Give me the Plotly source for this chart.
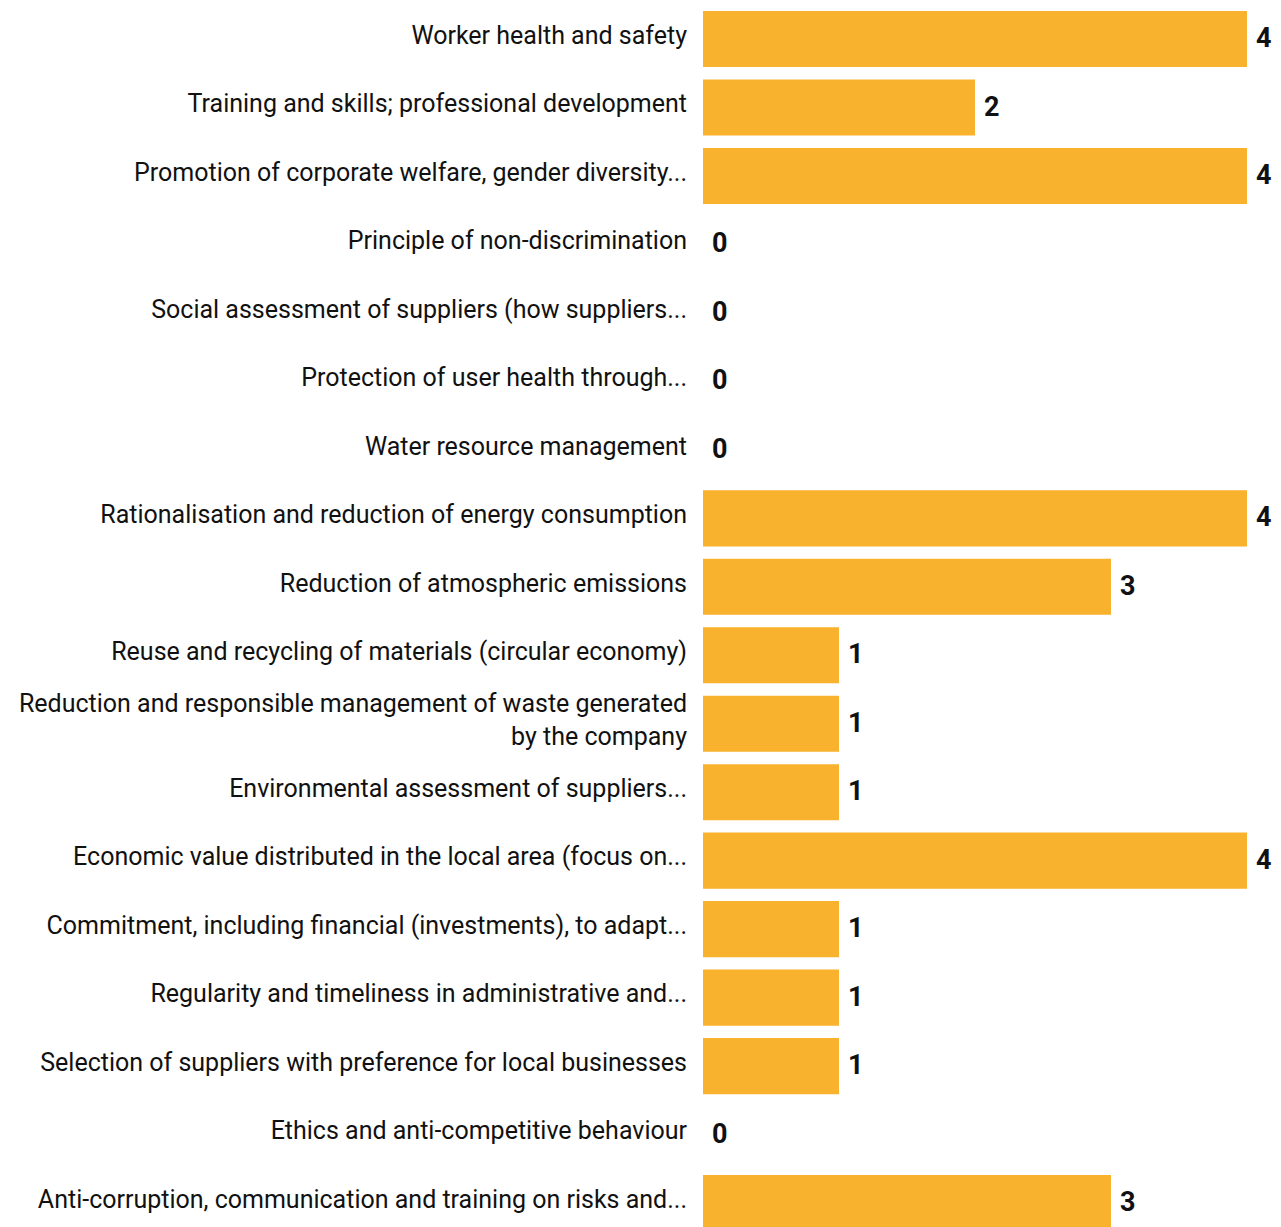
import plotly.graph_objects as go

# Topics and the number of times each was selected
topics = [
    "Worker health and safety",
    "Training and skills; professional development",
    "Promotion of corporate welfare, gender diversity...",
    "Principle of non-discrimination",
    "Social assessment of suppliers (how suppliers...",
    "Protection of user health through...",
    "Water resource management",
    "Rationalisation and reduction of energy consumption",
    "Reduction of atmospheric emissions",
    "Reuse and recycling of materials (circular economy)",
    "Reduction and responsible management of waste generated<br>by the company",
    "Environmental assessment of suppliers...",
    "Economic value distributed in the local area (focus on...",
    "Commitment, including financial (investments), to adapt...",
    "Regularity and timeliness in administrative and...",
    "Selection of suppliers with preference for local businesses",
    "Ethics and anti-competitive behaviour",
    "Anti-corruption, communication and training on risks and...",
]
counts = [4, 2, 4, 0, 0, 0, 0, 4, 3, 1, 1, 1, 4, 1, 1, 1, 0, 3]

BAR_COLOR = "#F9B22D"
FONT = "Roboto, 'Noto Sans', sans-serif"

fig = go.Figure(
    go.Bar(
        x=counts,
        y=topics,
        orientation="h",
        marker=dict(color=BAR_COLOR, line=dict(width=0)),
        hoverinfo="skip",
    )
)

# value labels just past the end of each bar
for t, v in zip(topics, counts):
    fig.add_annotation(
        x=v, y=t, text=f"<b>{v}</b>", showarrow=False,
        xanchor="left", yanchor="middle", xshift=7, yshift=1,
        font=dict(family=FONT, size=27, color="#111111"),
    )

fig.update_layout(
    width=1281,
    height=1227,
    margin=dict(l=703, r=34, t=0, b=0, autoexpand=False),
    paper_bgcolor="white",
    plot_bgcolor="white",
    bargap=0.18,
    showlegend=False,
    font=dict(family=FONT, size=25, color="#111111"),
)
fig.update_xaxes(range=[0, 4], showgrid=False, zeroline=False,
                 showticklabels=False, fixedrange=True)
fig.update_yaxes(type="category", range=[17.35, -0.57], showgrid=False,
                 zeroline=False, ticks="", ticklabelstandoff=15,
                 ticklabelshift=4, automargin=False,
                 tickfont=dict(family=FONT, size=25, color="#111111"))

fig.write_html("out.html")
